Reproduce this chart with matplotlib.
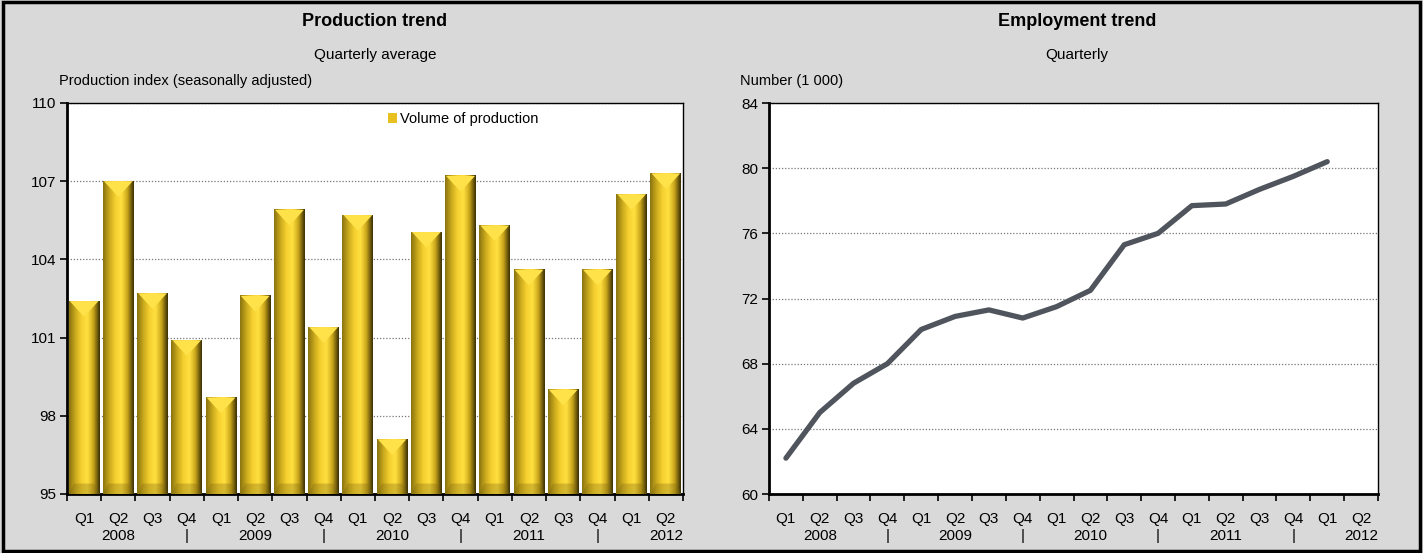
import numpy as np
import matplotlib.pyplot as plt
from matplotlib.colors import LinearSegmentedColormap
from matplotlib.patches import Polygon, Rectangle

plt.rcParams['font.family'] = ['Liberation Sans Narrow', 'Liberation Sans', 'DejaVu Sans']

quarters = ['Q1', 'Q2', 'Q3', 'Q4'] * 4 + ['Q1', 'Q2']
years = ['', '2008', '', '|', '', '2009', '', '|', '', '2010', '', '|', '', '2011', '', '|', '', '2012']
tick_labels = [q + '\n' + y for q, y in zip(quarters, years)]

production = [102.4, 107.0, 102.7, 100.9, 98.7, 102.6, 105.9, 101.4, 105.7, 97.1,
              105.05, 107.2, 105.3, 103.6, 99.0, 103.6, 106.5, 107.3]
employment = [62.2, 65.0, 66.8, 68.0, 70.1, 70.9, 71.3, 70.8, 71.5, 72.5,
              75.3, 76.0, 77.7, 77.8, 78.7, 79.5, 80.4]

bg = '#d9d9d9'
gold = LinearSegmentedColormap.from_list(
    'gold', ['#8a7410', '#c9a81c', '#f5d030', '#ffe040', '#c8a41a', '#3a3005'])

fig = plt.figure(figsize=(14.23, 5.53), dpi=100, facecolor=bg)
fig.patches.append(Rectangle((0.002, 0.004), 0.996, 0.992, transform=fig.transFigure,
                             fill=False, edgecolor='black', linewidth=2.5))

W, H = 1423, 553
ax1 = fig.add_axes([67 / W, 1 - 494 / H, (683 - 67) / W, (494 - 103) / H])
ax2 = fig.add_axes([769 / W, 1 - 494 / H, (1378 - 769) / W, (494 - 103) / H])

x = np.arange(len(tick_labels))


def style_axis(ax, yticks):
    ax.set_facecolor('white')
    ax.set_xlim(-0.5, len(tick_labels) - 0.5)
    ax.set_ylim(yticks[0], yticks[-1])
    ax.set_yticks(yticks)
    ax.set_yticklabels([str(t) for t in yticks], fontsize=11)
    ax.set_xticks(x)
    ax.set_xticklabels(tick_labels, fontsize=11, linespacing=1.3)
    ax.set_xticks(np.arange(-0.5, len(tick_labels)), minor=True)
    ax.tick_params(axis='x', which='major', length=0, pad=13)
    ax.tick_params(axis='x', which='minor', length=5, width=1.2, direction='out')
    ax.tick_params(axis='y', length=5, width=1.2, direction='out', pad=3)
    ax.grid(axis='y', linestyle=(0, (1, 1.5)), color='#777777', linewidth=0.9)
    ax.set_axisbelow(True)
    for s in ['top', 'right']:
        ax.spines[s].set_linewidth(1.0)
    for s in ['left', 'bottom']:
        ax.spines[s].set_linewidth(2.0)


# production bars
style_axis(ax1, [95, 98, 101, 104, 107, 110])
bars = ax1.bar(x, np.array(production) - 95, bottom=95, width=0.9,
               color='#e8c020', edgecolor='none', zorder=2, label='Volume of production')
grad = np.linspace(0, 1, 64).reshape(1, -1)
for b in bars:
    x0, w = b.get_x(), b.get_width()
    top = b.get_y() + b.get_height()
    ax1.imshow(grad, cmap=gold, aspect='auto', extent=(x0, x0 + w, 95, top),
               zorder=3, interpolation='bicubic')
    h = 0.6
    ax1.add_patch(Polygon([(x0 + 0.03, top), (x0 + w - 0.03, top), (x0 + w / 2, top - h)],
                          closed=True, facecolor='#ffe24a', edgecolor='none', zorder=4))
    ax1.add_patch(Polygon([(x0, 95), (x0 + w, 95), (x0 + w - 0.15, 95.4), (x0 + 0.15, 95.4)],
                          closed=True, facecolor='#7a6410', alpha=0.3, edgecolor='none', zorder=4))
ax1.set_xlim(-0.5, len(tick_labels) - 0.5)
ax1.set_ylim(95, 110)
ax1.legend(loc='upper left', bbox_to_anchor=(0.5, 1.01), frameon=False, fontsize=10.5,
           handlelength=0.6, handleheight=0.6, handletextpad=0.2)

# employment line
style_axis(ax2, [60, 64, 68, 72, 76, 80, 84])
ax2.plot(x[:len(employment)], employment, color='#50555d', linewidth=3.8,
         solid_capstyle='round', solid_joinstyle='round', zorder=3)

# titles and labels
fig.text(375 / W, 1 - 22 / H, 'Production trend', ha='center', va='center',
         fontsize=13, fontweight='bold')
fig.text(375 / W, 1 - 55 / H, 'Quarterly average', ha='center', va='center', fontsize=11)
fig.text(59 / W, 1 - 81 / H, 'Production index (seasonally adjusted)', ha='left',
         va='center', fontsize=10.5)
fig.text(1077 / W, 1 - 22 / H, 'Employment trend', ha='center', va='center',
         fontsize=13, fontweight='bold')
fig.text(1077 / W, 1 - 55 / H, 'Quarterly', ha='center', va='center', fontsize=11)
fig.text(740 / W, 1 - 81 / H, 'Number (1 000)', ha='left', va='center', fontsize=10.5)

fig.savefig('out.png', dpi=100, facecolor=bg)
